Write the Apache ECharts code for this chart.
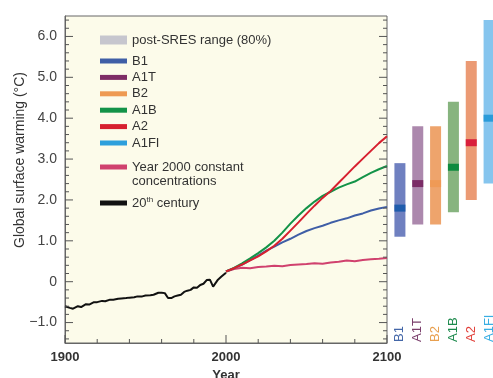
<!DOCTYPE html>
<html>
<head>
<meta charset="utf-8">
<script src="https://cdn.jsdelivr.net/npm/echarts@6/dist/echarts.min.js"></script>
<style>
  html, body { margin: 0; padding: 0; background: #fff; }
  #chart { width: 493px; height: 378px; }
</style>
</head>
<body>
<div id="chart"></div>
<script>
// observed 20th century warming
const histYears = [1900, 1903, 1905, 1908, 1910, 1913, 1915, 1918, 1920, 1923, 1925, 1928, 1930, 1933, 1935, 1938,
  1940, 1943, 1945, 1948, 1950, 1953, 1955, 1958, 1960, 1962, 1964, 1966, 1968, 1970, 1972, 1974, 1976, 1978,
  1980, 1982, 1984, 1986, 1988, 1990, 1991, 1992, 1993, 1995, 1997, 2000]
const histTemp = [-0.60, -0.64, -0.66, -0.60, -0.62, -0.55, -0.56, -0.50, -0.50, -0.47, -0.48, -0.44, -0.44, -0.42, -0.41, -0.40,
  -0.39, -0.38, -0.36, -0.36, -0.34, -0.33, -0.32, -0.27, -0.27, -0.28, -0.40, -0.40, -0.36, -0.34, -0.32, -0.25, -0.22, -0.20,
  -0.14, -0.15, -0.08, -0.05, 0.04, 0.05, 0.02, -0.12, -0.10, 0.05, 0.12, 0.22]

// projections, 2000-2100
const projYears = [2000, 2005, 2010, 2015, 2020, 2025, 2030, 2035, 2040, 2045, 2050,
  2055, 2060, 2065, 2070, 2075, 2080, 2085, 2090, 2095, 2100]
const b1 = [0.25, 0.33, 0.42, 0.53, 0.64, 0.76, 0.86, 0.96, 1.05, 1.15, 1.24, 1.31, 1.37, 1.44, 1.50, 1.55, 1.62, 1.67, 1.74, 1.79, 1.83]
const a1b = [0.25, 0.34, 0.45, 0.57, 0.70, 0.84, 1.00, 1.20, 1.42, 1.62, 1.80, 1.96, 2.10, 2.20, 2.30, 2.38, 2.45, 2.56, 2.66, 2.75, 2.83]
const a2 = [0.25, 0.33, 0.42, 0.52, 0.62, 0.74, 0.88, 1.05, 1.25, 1.45, 1.66, 1.86, 2.05, 2.22, 2.42, 2.62, 2.82, 3.01, 3.20, 3.39, 3.56]
const commit = [0.25, 0.31, 0.34, 0.33, 0.36, 0.37, 0.39, 0.38, 0.41, 0.42, 0.43, 0.45, 0.44, 0.47, 0.49, 0.52, 0.50, 0.53, 0.55, 0.56, 0.58]

// likely ranges at 2090-2099
const scenarios = ['B1', 'A1T', 'B2', 'A1B', 'A2', 'A1FI']
const rangeLow = [1.1, 1.4, 1.4, 1.7, 2.0, 2.4]
const bestEst = [1.8, 2.4, 2.4, 2.8, 3.4, 4.0]
const rangeHigh = [2.9, 3.8, 3.8, 4.4, 5.4, 6.4]

// axes
const xMin = 1900, xMax = 2100, yMin = -1.5, yMax = 6.5
const yMajorTicks = [-1, 0, 1, 2, 3, 4, 5, 6]
const xLabelYears = [1900, 2000, 2100]
const xMinorYears = [1920, 1940, 1960, 1980, 2020, 2040, 2060, 2080]

// styles
const rangeColors = ['#6f80c0', '#ac88ad', '#eea46c', '#87b47f', '#eb9a74', '#86c5ee']
const bestColors = ['#1f5cac', '#7b2b66', '#ef9a56', '#0d8b3f', '#d91f3c', '#2a9bd9']
const labelColors = ['#4467a8', '#7a3e6b', '#e8a050', '#1d8a4d', '#e2403a', '#38aee3']
const font = 'Liberation Sans'
const tickColor = '#555'

const yMinorTicks = []
for (let v = -7; v <= 32; v++) {
  if (v % 5 !== 0) yMinorTicks.push(Math.round(v * 2) / 10)
}

const pairs = (xs, ys) => xs.map((x, i) => [x, ys[i]])

const lineSeries = (name, color, data) => ({
  name,
  type: 'line',
  xAxisIndex: 0,
  yAxisIndex: 0,
  data,
  color,
  showSymbol: false,
  lineStyle: { width: 2, color },
  silent: true
})

const fmtY = v => {
  if (v === 0) return '0'
  return (v < 0 ? '\u2212' : '') + Math.abs(v).toFixed(1)
}

// inward ticks: [x, y, length, side] with side 0 = left, 1 = right, 2 = bottom.
// the value along the other axis is just the middle of the plot; the tick is
// pushed to the plot edge in renderItem.
const xMid = (xMin + xMax) / 2
const yMid = (yMin + yMax) / 2
const tickItems = [].concat(
  yMajorTicks.map(v => [xMid, v, 8, 0]),
  yMinorTicks.map(v => [xMid, v, 4, 0]),
  yMajorTicks.map(v => [xMid, v, 8, 1]),
  yMinorTicks.map(v => [xMid, v, 4, 1]),
  xLabelYears.map(v => [v, yMid, 8, 2]),
  xMinorYears.map(v => [v, yMid, 4, 2])
)

const tickSeries = {
  type: 'custom',
  xAxisIndex: 0,
  yAxisIndex: 0,
  silent: true,
  clip: false,
  z: 5,
  data: tickItems,
  renderItem: (params, api) => {
    const cs = params.coordSys
    const p = api.coord([api.value(0), api.value(1)])
    const len = api.value(2)
    const side = api.value(3)
    let shape
    if (side === 0) shape = { x: cs.x, y: p[1] - 0.5, width: len, height: 1 }
    else if (side === 1) shape = { x: cs.x + cs.width - len, y: p[1] - 0.5, width: len, height: 1 }
    else shape = { x: p[0] - 0.5, y: cs.y + cs.height - len, width: 1, height: len }
    return { type: 'rect', shape, style: { fill: tickColor } }
  }
}

const legendBase = {
  orient: 'vertical',
  left: 100,
  padding: 0,
  itemWidth: 27,
  itemHeight: 5,
  icon: 'rect',
  selectedMode: false,
  textStyle: { fontSize: 13, color: '#333', fontFamily: font, lineHeight: 14 }
}

const chart = echarts.init(document.getElementById('chart'))

chart.setOption({
  animation: false,
  backgroundColor: '#fff',
  textStyle: { fontFamily: font },
  grid: [
    {
      left: 65, right: 106, top: 16, bottom: 35, outerBoundsMode: 'none',
      show: true, backgroundColor: '#fcfbea', borderColor: '#666', borderWidth: 1
    },
    { left: 391, right: -5, top: 16, bottom: 35, outerBoundsMode: 'none' }
  ],
  legend: [
    Object.assign({}, legendBase, { top: 33, itemHeight: 9, data: ['post-SRES range (80%)'] }),
    Object.assign({}, legendBase, { top: 54, itemGap: 2.4, data: ['B1', 'A1T', 'B2', 'A1B', 'A2', 'A1FI'] }),
    Object.assign({}, legendBase, {
      top: 146,
      data: ['Year 2000 constant concentrations'],
      formatter: () => ' \nYear 2000 constant\nconcentrations'
    }),
    Object.assign({}, legendBase, {
      top: 196,
      data: ['20th century'],
      formatter: () => '20{sup|th} century',
      textStyle: Object.assign({}, legendBase.textStyle, {
        rich: { sup: { fontSize: 8, color: '#333', fontFamily: font, padding: [0, 0, 6, 0] } }
      })
    })
  ],
  graphic: [{
    type: 'text',
    x: 20,
    y: 160,
    rotation: Math.PI / 2,
    style: {
      text: 'Global surface warming (\u00b0C)',
      fontSize: 14,
      fontFamily: font,
      fill: '#333',
      align: 'center',
      verticalAlign: 'middle'
    }
  }],
  xAxis: [
    {
      gridIndex: 0, type: 'value', min: xMin, max: xMax,
      axisLine: { show: true, onZero: false, lineStyle: { color: '#666' } },
      axisTick: { show: false },
      axisLabel: { customValues: xLabelYears, formatter: v => String(v), fontSize: 13, fontWeight: 'bold', color: '#333', margin: 8 },
      splitLine: { show: false },
      name: 'Year', nameLocation: 'middle', nameGap: 24,
      nameTextStyle: { fontSize: 13, fontWeight: 'bold', color: '#333' }
    },
    {
      gridIndex: 1, type: 'category',
      data: scenarios.map((s, i) => ({ value: s, textStyle: { color: labelColors[i] } })),
      axisLine: { show: false },
      axisTick: { show: false },
      axisLabel: { inside: true, rotate: 90, align: 'left', margin: 1, fontSize: 13, interval: 0 },
      splitLine: { show: false }
    }
  ],
  yAxis: [
    {
      gridIndex: 0, type: 'value', min: yMin, max: yMax,
      axisLine: { show: true, lineStyle: { color: '#666' } },
      axisTick: { show: false },
      axisLabel: { customValues: yMajorTicks, formatter: fmtY, fontSize: 14, color: '#444', margin: 8 },
      splitLine: { show: false }
    },
    { gridIndex: 1, type: 'value', min: yMin, max: yMax, show: false }
  ],
  series: [
    lineSeries('post-SRES range (80%)', '#c6c6ce', []),
    lineSeries('A1T', '#7e2d66', []),
    lineSeries('B2', '#ee9a52', []),
    lineSeries('A1FI', '#2d9fdc', []),
    lineSeries('20th century', '#111111', pairs(histYears, histTemp)),
    lineSeries('Year 2000 constant concentrations', '#d0416e', pairs(projYears, commit)),
    lineSeries('B1', '#3f5ea6', pairs(projYears, b1)),
    lineSeries('A1B', '#139348', pairs(projYears, a1b)),
    lineSeries('A2', '#d7202f', pairs(projYears, a2)),
    tickSeries,
    {
      type: 'custom',
      xAxisIndex: 1,
      yAxisIndex: 1,
      silent: true,
      data: scenarios.map((s, i) => [i, rangeLow[i], bestEst[i], rangeHigh[i]]),
      encode: { x: 0, y: [1, 2, 3] },
      renderItem: (params, api) => {
        const i = api.value(0)
        const lo = api.coord([i, api.value(1)])
        const best = api.coord([i, api.value(2)])
        const hi = api.coord([i, api.value(3)])
        const w = 11
        return {
          type: 'group',
          children: [
            { type: 'rect', shape: { x: lo[0] - w / 2, y: hi[1], width: w, height: lo[1] - hi[1] }, style: { fill: rangeColors[i] } },
            { type: 'rect', shape: { x: best[0] - w / 2, y: best[1] - 3.5, width: w, height: 7 }, style: { fill: bestColors[i] } }
          ]
        }
      }
    }
  ]
})
</script>
</body>
</html>
